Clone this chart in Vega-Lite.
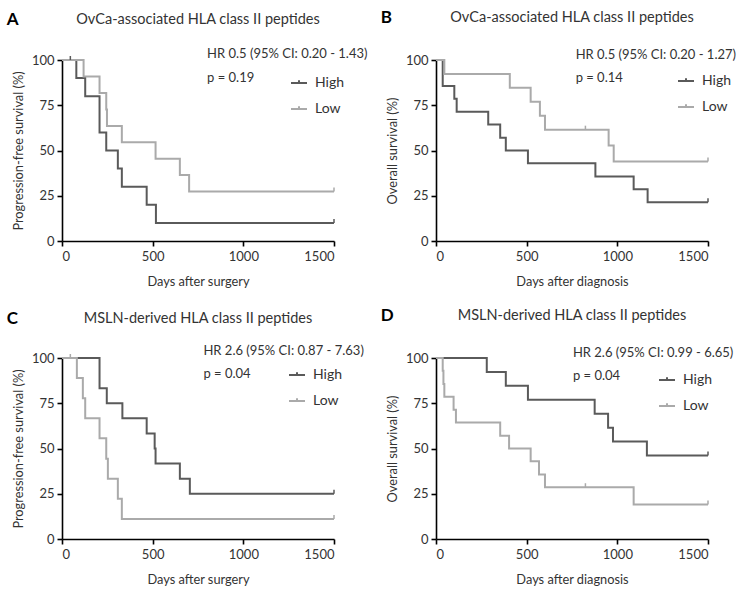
{
  "$schema": "https://vega.github.io/schema/vega-lite/v6.json",
  "padding": {"left": 6, "top": 9, "right": 5, "bottom": 5},
  "config": {
    "font": "Lato",
    "view": {"stroke": null},
    "axis": {
      "grid": false,
      "domainColor": "#000000",
      "domainWidth": 1.6,
      "tickColor": "#000000",
      "tickWidth": 1.6,
      "tickSize": 5,
      "labelFont": "Lato",
      "labelFontSize": 13,
      "labelColor": "#333333",
      "titleFont": "Lato",
      "titleFontSize": 12.8,
      "titleFontWeight": "normal",
      "titleColor": "#333333"
    },
    "axisX": {"labelPadding": 4, "titlePadding": 12, "format": "d"},
    "axisY": {"labelPadding": 3, "titlePadding": 6},
    "legend": {"labelFont": "Lato", "labelFontSize": 14, "labelColor": "#333333"}
  },
  "datasets": {
    "km": [
      {"panel": "A", "group": "High", "t": 0, "s": 100},
      {"panel": "A", "group": "High", "t": 79, "s": 90},
      {"panel": "A", "group": "High", "t": 128, "s": 80},
      {"panel": "A", "group": "High", "t": 207, "s": 60},
      {"panel": "A", "group": "High", "t": 244, "s": 50},
      {"panel": "A", "group": "High", "t": 308, "s": 40},
      {"panel": "A", "group": "High", "t": 330, "s": 30},
      {"panel": "A", "group": "High", "t": 467, "s": 20},
      {"panel": "A", "group": "High", "t": 518, "s": 10},
      {"panel": "A", "group": "High", "t": 1500, "s": 10},
      {"panel": "A", "group": "Low", "t": 0, "s": 100},
      {"panel": "A", "group": "Low", "t": 119, "s": 90.9},
      {"panel": "A", "group": "Low", "t": 207, "s": 81.8},
      {"panel": "A", "group": "Low", "t": 244, "s": 72.7},
      {"panel": "A", "group": "Low", "t": 248, "s": 63.6},
      {"panel": "A", "group": "Low", "t": 330, "s": 54.5},
      {"panel": "A", "group": "Low", "t": 516, "s": 45.5},
      {"panel": "A", "group": "Low", "t": 650, "s": 36.4},
      {"panel": "A", "group": "Low", "t": 701, "s": 27.3},
      {"panel": "A", "group": "Low", "t": 1500, "s": 27.3},
      {"panel": "B", "group": "High", "t": 0, "s": 100},
      {"panel": "B", "group": "High", "t": 37, "s": 85.7},
      {"panel": "B", "group": "High", "t": 101, "s": 78.6},
      {"panel": "B", "group": "High", "t": 114, "s": 71.4},
      {"panel": "B", "group": "High", "t": 288, "s": 64.3},
      {"panel": "B", "group": "High", "t": 354, "s": 57.1},
      {"panel": "B", "group": "High", "t": 385, "s": 50},
      {"panel": "B", "group": "High", "t": 507, "s": 42.9},
      {"panel": "B", "group": "High", "t": 879, "s": 35.7},
      {"panel": "B", "group": "High", "t": 1090, "s": 28.6},
      {"panel": "B", "group": "High", "t": 1167, "s": 21.4},
      {"panel": "B", "group": "High", "t": 1500, "s": 21.4},
      {"panel": "B", "group": "Low", "t": 0, "s": 100},
      {"panel": "B", "group": "Low", "t": 46, "s": 92.3},
      {"panel": "B", "group": "Low", "t": 407, "s": 84.6},
      {"panel": "B", "group": "Low", "t": 522, "s": 76.9},
      {"panel": "B", "group": "Low", "t": 573, "s": 69.2},
      {"panel": "B", "group": "Low", "t": 601, "s": 61.5},
      {"panel": "B", "group": "Low", "t": 952, "s": 52.7},
      {"panel": "B", "group": "Low", "t": 980, "s": 43.9},
      {"panel": "B", "group": "Low", "t": 1500, "s": 43.9},
      {"panel": "C", "group": "High", "t": 0, "s": 100},
      {"panel": "C", "group": "High", "t": 207, "s": 83.3},
      {"panel": "C", "group": "High", "t": 247, "s": 75},
      {"panel": "C", "group": "High", "t": 333, "s": 66.7},
      {"panel": "C", "group": "High", "t": 467, "s": 58.3},
      {"panel": "C", "group": "High", "t": 511, "s": 50},
      {"panel": "C", "group": "High", "t": 516, "s": 41.7},
      {"panel": "C", "group": "High", "t": 650, "s": 33.3},
      {"panel": "C", "group": "High", "t": 705, "s": 25},
      {"panel": "C", "group": "High", "t": 1500, "s": 25},
      {"panel": "C", "group": "Low", "t": 0, "s": 100},
      {"panel": "C", "group": "Low", "t": 82, "s": 88.9},
      {"panel": "C", "group": "Low", "t": 115, "s": 77.8},
      {"panel": "C", "group": "Low", "t": 128, "s": 66.7},
      {"panel": "C", "group": "Low", "t": 207, "s": 55.6},
      {"panel": "C", "group": "Low", "t": 244, "s": 44.4},
      {"panel": "C", "group": "Low", "t": 253, "s": 33.3},
      {"panel": "C", "group": "Low", "t": 308, "s": 22.2},
      {"panel": "C", "group": "Low", "t": 330, "s": 11.1},
      {"panel": "C", "group": "Low", "t": 1500, "s": 11.1},
      {"panel": "D", "group": "High", "t": 0, "s": 100},
      {"panel": "D", "group": "High", "t": 280, "s": 92.3},
      {"panel": "D", "group": "High", "t": 385, "s": 84.6},
      {"panel": "D", "group": "High", "t": 507, "s": 76.9},
      {"panel": "D", "group": "High", "t": 875, "s": 69.2},
      {"panel": "D", "group": "High", "t": 949, "s": 61.5},
      {"panel": "D", "group": "High", "t": 976, "s": 53.8},
      {"panel": "D", "group": "High", "t": 1163, "s": 46.2},
      {"panel": "D", "group": "High", "t": 1500, "s": 46.2},
      {"panel": "D", "group": "Low", "t": 0, "s": 100},
      {"panel": "D", "group": "Low", "t": 37, "s": 92.9},
      {"panel": "D", "group": "Low", "t": 41, "s": 85.7},
      {"panel": "D", "group": "Low", "t": 46, "s": 78.6},
      {"panel": "D", "group": "Low", "t": 97, "s": 71.4},
      {"panel": "D", "group": "Low", "t": 110, "s": 64.3},
      {"panel": "D", "group": "Low", "t": 354, "s": 57.1},
      {"panel": "D", "group": "Low", "t": 403, "s": 50},
      {"panel": "D", "group": "Low", "t": 522, "s": 42.9},
      {"panel": "D", "group": "Low", "t": 568, "s": 35.7},
      {"panel": "D", "group": "Low", "t": 601, "s": 28.6},
      {"panel": "D", "group": "Low", "t": 1090, "s": 19.0},
      {"panel": "D", "group": "Low", "t": 1500, "s": 19.0}
    ],
    "cens": [
      {"panel": "A", "group": "High", "t": 46, "s": 100},
      {"panel": "A", "group": "High", "t": 1500, "s": 10},
      {"panel": "A", "group": "Low", "t": 1500, "s": 27.3},
      {"panel": "B", "group": "Low", "t": 824, "s": 61.5},
      {"panel": "B", "group": "Low", "t": 1500, "s": 43.9},
      {"panel": "B", "group": "High", "t": 1500, "s": 21.4},
      {"panel": "C", "group": "Low", "t": 46, "s": 100},
      {"panel": "C", "group": "High", "t": 1500, "s": 25},
      {"panel": "C", "group": "Low", "t": 1500, "s": 11.1},
      {"panel": "D", "group": "Low", "t": 824, "s": 28.6},
      {"panel": "D", "group": "High", "t": 1500, "s": 46.2},
      {"panel": "D", "group": "Low", "t": 1500, "s": 19.0}
    ],
    "notes": [
      {"panel": "A", "letter": "A", "title": "OvCa-associated HLA class II peptides", "hr": "HR 0.5 (95% CI: 0.20 - 1.43)", "p": "p = 0.19"},
      {"panel": "B", "letter": "B", "title": "OvCa-associated HLA class II peptides", "hr": "HR 0.5 (95% CI: 0.20 - 1.27)", "p": "p = 0.14"},
      {"panel": "C", "letter": "C", "title": "MSLN-derived HLA class II peptides", "hr": "HR 2.6 (95% CI: 0.87 - 7.63)", "p": "p = 0.04"},
      {"panel": "D", "letter": "D", "title": "MSLN-derived HLA class II peptides", "hr": "HR 2.6 (95% CI: 0.99 - 6.65)", "p": "p = 0.04"}
    ]
  },
  "columns": 2,
  "bounds": "flush",
  "spacing": {"column": 102, "row": 117},
  "resolve": {"scale": {"color": "independent"}, "legend": {"color": "independent"}},
  "concat": [
    {
      "width": 272, "height": 181,
      "layer": [
        {
          "data": {"name": "km"},
          "transform": [{"filter": "datum.panel === 'A'"}],
          "mark": {"type": "line", "interpolate": "step-after", "strokeWidth": 2},
          "encoding": {
            "x": {"field": "t", "type": "quantitative", "scale": {"domain": [0, 1500], "nice": false}, "axis": {"values": [0, 500, 1000, 1500], "title": "Days after surgery"}},
            "y": {"field": "s", "type": "quantitative", "scale": {"domain": [0, 100], "nice": false}, "axis": {"values": [0, 25, 50, 75, 100], "title": "Progression-free survival (%)"}},
            "color": {"field": "group", "type": "nominal", "scale": {"domain": ["High", "Low"], "range": ["#5a5a5a", "#aaaaaa"]},
              "legend": {"orient": "none", "legendX": 228, "legendY": 14, "title": null, "symbolType": "M-1,0H1M0,0V-0.35", "symbolSize": 256, "symbolStrokeWidth": 2, "labelOffset": 7, "rowPadding": 10, "padding": 0}}
          }
        },
        {
          "data": {"name": "cens"},
          "transform": [{"filter": "datum.panel === 'A'"}],
          "mark": {"type": "point", "shape": "M0,0V-1", "size": 64, "filled": false, "strokeWidth": 1.5, "opacity": 1},
          "encoding": {
            "x": {"field": "t", "type": "quantitative"},
            "y": {"field": "s", "type": "quantitative"},
            "color": {"field": "group", "type": "nominal"}
          }
        },
        {
          "data": {"name": "notes"},
          "transform": [{"filter": "datum.panel === 'A'"}],
          "mark": {"type": "text", "align": "left", "baseline": "middle", "fontSize": 13, "color": "#333333"},
          "encoding": {"x": {"datum": 800}, "y": {"datum": 103.5}, "text": {"field": "hr"}}
        },
        {
          "data": {"name": "notes"},
          "transform": [{"filter": "datum.panel === 'A'"}],
          "mark": {"type": "text", "align": "left", "baseline": "middle", "fontSize": 13, "color": "#333333"},
          "encoding": {"x": {"datum": 800}, "y": {"datum": 90}, "text": {"field": "p"}}
        },
        {
          "data": {"name": "notes"},
          "transform": [{"filter": "datum.panel === 'A'"}],
          "mark": {"type": "text", "align": "left", "baseline": "middle", "fontSize": 17, "fontWeight": "bold", "color": "#000000"},
          "encoding": {"x": {"datum": -305}, "y": {"datum": 122}, "text": {"field": "letter"}}
        },
        {
          "data": {"name": "notes"},
          "transform": [{"filter": "datum.panel === 'A'"}],
          "mark": {"type": "text", "align": "center", "baseline": "middle", "fontSize": 14.5, "color": "#333333"},
          "encoding": {"x": {"datum": 750}, "y": {"datum": 122}, "text": {"field": "title"}}
        }
      ]
    },
    {
      "width": 272, "height": 181,
      "layer": [
        {
          "data": {"name": "km"},
          "transform": [{"filter": "datum.panel === 'B'"}],
          "mark": {"type": "line", "interpolate": "step-after", "strokeWidth": 2},
          "encoding": {
            "x": {"field": "t", "type": "quantitative", "scale": {"domain": [0, 1500], "nice": false}, "axis": {"values": [0, 500, 1000, 1500], "title": "Days after diagnosis"}},
            "y": {"field": "s", "type": "quantitative", "scale": {"domain": [0, 100], "nice": false}, "axis": {"values": [0, 25, 50, 75, 100], "title": "Overall survival (%)"}},
            "color": {"field": "group", "type": "nominal", "scale": {"domain": ["High", "Low"], "range": ["#5a5a5a", "#aaaaaa"]},
              "legend": {"orient": "none", "legendX": 241, "legendY": 12, "title": null, "symbolType": "M-1,0H1M0,0V-0.35", "symbolSize": 256, "symbolStrokeWidth": 2, "labelOffset": 7, "rowPadding": 10, "padding": 0}}
          }
        },
        {
          "data": {"name": "cens"},
          "transform": [{"filter": "datum.panel === 'B'"}],
          "mark": {"type": "point", "shape": "M0,0V-1", "size": 64, "filled": false, "strokeWidth": 1.5, "opacity": 1},
          "encoding": {
            "x": {"field": "t", "type": "quantitative"},
            "y": {"field": "s", "type": "quantitative"},
            "color": {"field": "group", "type": "nominal"}
          }
        },
        {
          "data": {"name": "notes"},
          "transform": [{"filter": "datum.panel === 'B'"}],
          "mark": {"type": "text", "align": "left", "baseline": "middle", "fontSize": 13, "color": "#333333"},
          "encoding": {"x": {"datum": 770}, "y": {"datum": 103}, "text": {"field": "hr"}}
        },
        {
          "data": {"name": "notes"},
          "transform": [{"filter": "datum.panel === 'B'"}],
          "mark": {"type": "text", "align": "left", "baseline": "middle", "fontSize": 13, "color": "#333333"},
          "encoding": {"x": {"datum": 770}, "y": {"datum": 90}, "text": {"field": "p"}}
        },
        {
          "data": {"name": "notes"},
          "transform": [{"filter": "datum.panel === 'B'"}],
          "mark": {"type": "text", "align": "left", "baseline": "middle", "fontSize": 17, "fontWeight": "bold", "color": "#000000"},
          "encoding": {"x": {"datum": -305}, "y": {"datum": 123}, "text": {"field": "letter"}}
        },
        {
          "data": {"name": "notes"},
          "transform": [{"filter": "datum.panel === 'B'"}],
          "mark": {"type": "text", "align": "center", "baseline": "middle", "fontSize": 14.5, "color": "#333333"},
          "encoding": {"x": {"datum": 750}, "y": {"datum": 123}, "text": {"field": "title"}}
        }
      ]
    },
    {
      "width": 272, "height": 181,
      "layer": [
        {
          "data": {"name": "km"},
          "transform": [{"filter": "datum.panel === 'C'"}],
          "mark": {"type": "line", "interpolate": "step-after", "strokeWidth": 2},
          "encoding": {
            "x": {"field": "t", "type": "quantitative", "scale": {"domain": [0, 1500], "nice": false}, "axis": {"values": [0, 500, 1000, 1500], "title": "Days after surgery"}},
            "y": {"field": "s", "type": "quantitative", "scale": {"domain": [0, 100], "nice": false}, "axis": {"values": [0, 25, 50, 75, 100], "title": "Progression-free survival (%)"}},
            "color": {"field": "group", "type": "nominal", "scale": {"domain": ["High", "Low"], "range": ["#5a5a5a", "#aaaaaa"]},
              "legend": {"orient": "none", "legendX": 226, "legendY": 8, "title": null, "symbolType": "M-1,0H1M0,0V-0.35", "symbolSize": 256, "symbolStrokeWidth": 2, "labelOffset": 7, "rowPadding": 10, "padding": 0}}
          }
        },
        {
          "data": {"name": "cens"},
          "transform": [{"filter": "datum.panel === 'C'"}],
          "mark": {"type": "point", "shape": "M0,0V-1", "size": 64, "filled": false, "strokeWidth": 1.5, "opacity": 1},
          "encoding": {
            "x": {"field": "t", "type": "quantitative"},
            "y": {"field": "s", "type": "quantitative"},
            "color": {"field": "group", "type": "nominal"}
          }
        },
        {
          "data": {"name": "notes"},
          "transform": [{"filter": "datum.panel === 'C'"}],
          "mark": {"type": "text", "align": "left", "baseline": "middle", "fontSize": 13, "color": "#333333"},
          "encoding": {"x": {"datum": 780}, "y": {"datum": 104}, "text": {"field": "hr"}}
        },
        {
          "data": {"name": "notes"},
          "transform": [{"filter": "datum.panel === 'C'"}],
          "mark": {"type": "text", "align": "left", "baseline": "middle", "fontSize": 13, "color": "#333333"},
          "encoding": {"x": {"datum": 780}, "y": {"datum": 91}, "text": {"field": "p"}}
        },
        {
          "data": {"name": "notes"},
          "transform": [{"filter": "datum.panel === 'C'"}],
          "mark": {"type": "text", "align": "left", "baseline": "middle", "fontSize": 17, "fontWeight": "bold", "color": "#000000"},
          "encoding": {"x": {"datum": -305}, "y": {"datum": 121.5}, "text": {"field": "letter"}}
        },
        {
          "data": {"name": "notes"},
          "transform": [{"filter": "datum.panel === 'C'"}],
          "mark": {"type": "text", "align": "center", "baseline": "middle", "fontSize": 14.5, "color": "#333333"},
          "encoding": {"x": {"datum": 750}, "y": {"datum": 121.5}, "text": {"field": "title"}}
        }
      ]
    },
    {
      "width": 272, "height": 181,
      "layer": [
        {
          "data": {"name": "km"},
          "transform": [{"filter": "datum.panel === 'D'"}],
          "mark": {"type": "line", "interpolate": "step-after", "strokeWidth": 2},
          "encoding": {
            "x": {"field": "t", "type": "quantitative", "scale": {"domain": [0, 1500], "nice": false}, "axis": {"values": [0, 500, 1000, 1500], "title": "Days after diagnosis"}},
            "y": {"field": "s", "type": "quantitative", "scale": {"domain": [0, 100], "nice": false}, "axis": {"values": [0, 25, 50, 75, 100], "title": "Overall survival (%)"}},
            "color": {"field": "group", "type": "nominal", "scale": {"domain": ["High", "Low"], "range": ["#5a5a5a", "#aaaaaa"]},
              "legend": {"orient": "none", "legendX": 222, "legendY": 13, "title": null, "symbolType": "M-1,0H1M0,0V-0.35", "symbolSize": 256, "symbolStrokeWidth": 2, "labelOffset": 7, "rowPadding": 10, "padding": 0}}
          }
        },
        {
          "data": {"name": "cens"},
          "transform": [{"filter": "datum.panel === 'D'"}],
          "mark": {"type": "point", "shape": "M0,0V-1", "size": 64, "filled": false, "strokeWidth": 1.5, "opacity": 1},
          "encoding": {
            "x": {"field": "t", "type": "quantitative"},
            "y": {"field": "s", "type": "quantitative"},
            "color": {"field": "group", "type": "nominal"}
          }
        },
        {
          "data": {"name": "notes"},
          "transform": [{"filter": "datum.panel === 'D'"}],
          "mark": {"type": "text", "align": "left", "baseline": "middle", "fontSize": 13, "color": "#333333"},
          "encoding": {"x": {"datum": 755}, "y": {"datum": 103}, "text": {"field": "hr"}}
        },
        {
          "data": {"name": "notes"},
          "transform": [{"filter": "datum.panel === 'D'"}],
          "mark": {"type": "text", "align": "left", "baseline": "middle", "fontSize": 13, "color": "#333333"},
          "encoding": {"x": {"datum": 755}, "y": {"datum": 90}, "text": {"field": "p"}}
        },
        {
          "data": {"name": "notes"},
          "transform": [{"filter": "datum.panel === 'D'"}],
          "mark": {"type": "text", "align": "left", "baseline": "middle", "fontSize": 17, "fontWeight": "bold", "color": "#000000"},
          "encoding": {"x": {"datum": -305}, "y": {"datum": 123}, "text": {"field": "letter"}}
        },
        {
          "data": {"name": "notes"},
          "transform": [{"filter": "datum.panel === 'D'"}],
          "mark": {"type": "text", "align": "center", "baseline": "middle", "fontSize": 14.5, "color": "#333333"},
          "encoding": {"x": {"datum": 750}, "y": {"datum": 123}, "text": {"field": "title"}}
        }
      ]
    }
  ]
}
